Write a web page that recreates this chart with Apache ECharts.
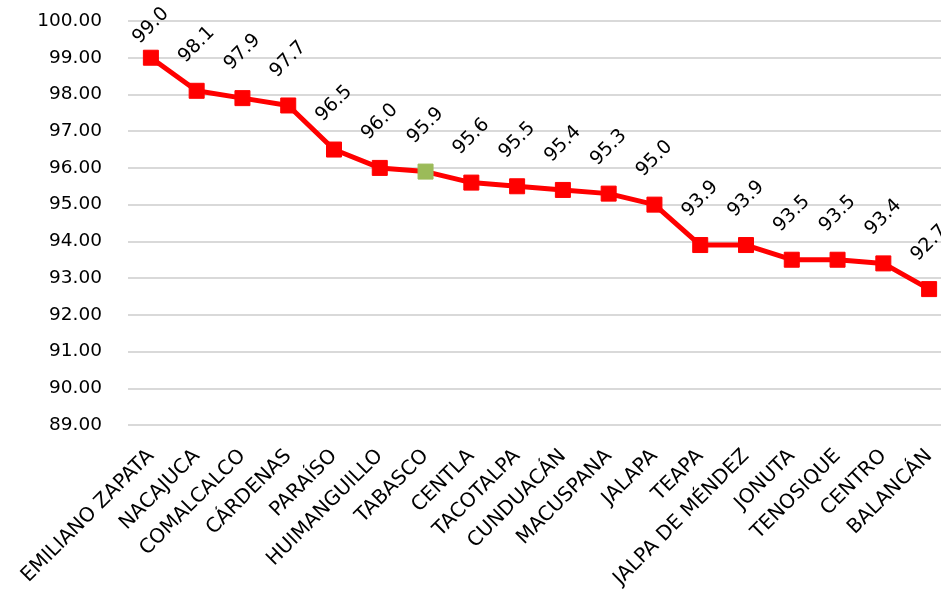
<!DOCTYPE html>
<html>
<head>
<meta charset="utf-8">
<script src="https://cdn.jsdelivr.net/npm/echarts@6/dist/echarts.min.js"></script>
<style>
  html, body { margin: 0; padding: 0; background: #ffffff; }
  #chart { width: 941px; height: 593px; }
</style>
</head>
<body>
<div id="chart"></div>
<script>
// Municipalities of Tabasco, ranked by value
const municipios = [
  'EMILIANO ZAPATA', 'NACAJUCA', 'COMALCALCO', 'CÁRDENAS', 'PARAÍSO',
  'HUIMANGUILLO', 'TABASCO', 'CENTLA', 'TACOTALPA', 'CUNDUACÁN',
  'MACUSPANA', 'JALAPA', 'TEAPA', 'JALPA DE MÉNDEZ', 'JONUTA',
  'TENOSIQUE', 'CENTRO', 'BALANCÁN'
];
const valores = [
  99.0, 98.1, 97.9, 97.7, 96.5, 96.0, 95.9, 95.6, 95.5, 95.4,
  95.3, 95.0, 93.9, 93.9, 93.5, 93.5, 93.4, 92.7
];
// The state total is highlighted
const destacado = 'TABASCO';

const yMin = 89, yMax = 100, yStep = 1;

const FONT = 'DejaVu Sans';
const RED = '#ff0000';
const GREEN = '#9bbb59';

const chart = echarts.init(document.getElementById('chart'), null, { renderer: 'canvas' });

const seriesData = valores.map((v, i) => {
  const item = { value: v };
  if (municipios[i] === destacado) {
    item.itemStyle = { color: GREEN, borderColor: GREEN };
  }
  // keep the topmost label from running off the top of the canvas
  if (i === 0) {
    item.label = { distance: 24 };
  }
  return item;
});

chart.setOption({
  animation: false,
  backgroundColor: '#ffffff',
  // plot area runs slightly past the right edge of the canvas
  grid: {
    left: 128, width: 824, top: 21, height: 404,
    containLabel: false,
    outerBoundsMode: 'none'
  },
  xAxis: {
    type: 'category',
    data: municipios,
    boundaryGap: true,
    axisLine: { show: false },
    axisTick: { show: false },
    axisLabel: {
      interval: 0,
      rotate: 45,
      margin: 28,
      color: '#000000',
      fontFamily: FONT,
      fontSize: 20
    },
    splitLine: { show: false }
  },
  yAxis: {
    type: 'value',
    min: yMin,
    max: yMax,
    interval: yStep,
    axisLine: { show: false },
    axisTick: { show: false },
    axisLabel: {
      margin: 26,
      color: '#000000',
      fontFamily: FONT,
      fontSize: 18.5,
      formatter: v => v.toFixed(2)
    },
    splitLine: { lineStyle: { color: '#d9d9d9', width: 2 } }
  },
  series: [{
    type: 'line',
    data: seriesData,
    symbol: 'rect',
    symbolSize: 15,
    lineStyle: { color: RED, width: 5 },
    itemStyle: { color: RED, borderColor: RED },
    label: {
      show: true,
      position: 'top',
      distance: 38,
      rotate: 45,
      align: 'center',
      verticalAlign: 'middle',
      color: '#000000',
      fontFamily: FONT,
      fontSize: 19,
      formatter: p => p.value.toFixed(1)
    }
  }]
});
</script>
</body>
</html>
